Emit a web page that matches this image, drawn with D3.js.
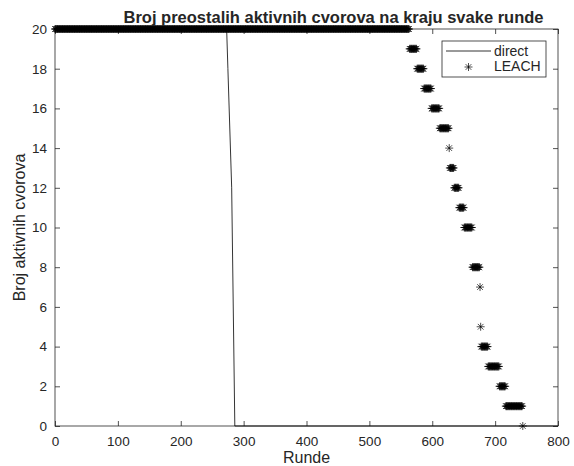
<!DOCTYPE html>
<html><head><meta charset="utf-8">
<script src="https://cdn.jsdelivr.net/npm/d3@7"></script>
<style>body{margin:0;background:#fff}svg{display:block}text{font-family:"Liberation Sans",Arial,sans-serif;fill:#262626}</style>
</head><body>
<script>
// Direct transmission: rounds and alive nodes
const directRounds = [0, 273, 275, 281, 286, 800];
const directAlive  = [20, 20, 18, 12, 0, 0];
// LEACH: alive-node levels and the rounds over which each level was recorded
const leachLevels = [20, 19, 18, 17, 16, 15, 14, 13, 12, 11, 10, 8, 7, 5, 4, 3, 2, 1, 0];
const leachFirst  = [0, 564, 576, 587, 599, 612, 627, 628, 635, 643, 651, 664, 676, 677, 678, 689, 707, 717, 744];
const leachLast   = [563, 575, 586, 598, 611, 626, 627, 634, 642, 650, 663, 675, 676, 677, 688, 706, 716, 743, 744];
const xTicks = [0,100,200,300,400,500,600,700,800];
const yTicks = [0,2,4,6,8,10,12,14,16,18,20];
const titleText = "Broj preostalih aktivnih cvorova na kraju svake runde";
const xLabel = "Runde", yLabel = "Broj aktivnih cvorova";
const legendNames = ["direct", "LEACH"];

const W = 574, H = 466;
const L = 55, R = 558, T = 29, B = 426;
const svg = d3.select("body").append("svg").attr("width", W).attr("height", H);
const x = d3.scaleLinear().domain([0, 800]).range([L, R]);
const y = d3.scaleLinear().domain([0, 20]).range([B, T]);
const ax = "#262626";

// frame
svg.append("rect").attr("x", L).attr("y", T).attr("width", R - L).attr("height", B - T)
  .attr("fill", "none").attr("stroke", ax).attr("stroke-width", 0.8);

const tl = 5;
const gx = svg.append("g").attr("transform", `translate(0,${B})`)
  .call(d3.axisBottom(x).tickValues(xTicks).tickSize(-tl).tickPadding(10).tickFormat(d3.format("d")));
const gxt = svg.append("g").attr("transform", `translate(0,${T})`)
  .call(d3.axisTop(x).tickValues(xTicks).tickSize(-tl).tickFormat(""));
const gy = svg.append("g").attr("transform", `translate(${L},0)`)
  .call(d3.axisLeft(y).tickValues(yTicks).tickSize(-tl).tickPadding(8).tickFormat(d3.format("d")));
const gyr = svg.append("g").attr("transform", `translate(${R},0)`)
  .call(d3.axisRight(y).tickValues(yTicks).tickSize(-tl).tickFormat(""));
[gx, gxt, gy, gyr].forEach(g => {
  g.select(".domain").remove();
  g.selectAll("line").attr("stroke", ax).attr("stroke-width", 0.8);
  g.selectAll("text").attr("font-size", 13.5).attr("fill", ax).attr("font-family", '"Liberation Sans",Arial,sans-serif');
});

// direct line
const line = d3.line().x(d => x(d[0])).y(d => y(d[1]));
svg.append("path").datum(directRounds.map((r, i) => [r, directAlive[i]]))
  .attr("d", line).attr("fill", "none").attr("stroke", "#000").attr("stroke-width", 0.8);

// LEACH markers, one per recorded round
const leachPts = [];
leachLevels.forEach((lv, i) => { for (let r = leachFirst[i]; r <= leachLast[i]; r++) leachPts.push([r, lv]); });
const rr = 4, dd = rr * 0.7071;
const star = `M${-rr},0L${rr},0M0,${-rr}L0,${rr}M${-dd},${-dd}L${dd},${dd}M${-dd},${dd}L${dd},${-dd}`;
svg.append("g").selectAll("path").data(leachPts).join("path")
  .attr("transform", d => `translate(${x(d[0])},${y(d[1])})`)
  .attr("d", star).attr("fill", "none").attr("stroke", "#000").attr("stroke-width", 0.7);

// title and labels
svg.append("text").attr("x", (L + R) / 2 + 27).attr("y", 23).attr("text-anchor", "middle")
  .attr("font-size", 16.5).attr("font-weight", "bold").attr("fill", "#000").text(titleText);
svg.append("text").attr("x", (L + R) / 2).attr("y", 463).attr("text-anchor", "middle")
  .attr("font-size", 16).text(xLabel);
svg.append("text").attr("transform", `translate(25,${(T + B) / 2}) rotate(-90)`).attr("text-anchor", "middle")
  .attr("font-size", 16).text(yLabel);

// legend
const lg = svg.append("g");
lg.append("rect").attr("x", 442).attr("y", 41).attr("width", 104).attr("height", 36)
  .attr("fill", "#fff").attr("stroke", ax).attr("stroke-width", 0.8);
lg.append("line").attr("x1", 446).attr("x2", 491).attr("y1", 51).attr("y2", 51)
  .attr("stroke", "#000").attr("stroke-width", 0.8);
lg.append("path").attr("transform", "translate(468.5,67)").attr("d", star)
  .attr("fill", "none").attr("stroke", "#000").attr("stroke-width", 0.7);
lg.append("text").attr("x", 494).attr("y", 56).attr("font-size", 14).attr("fill", "#000").text(legendNames[0]);
lg.append("text").attr("x", 494).attr("y", 71).attr("font-size", 14).attr("fill", "#000").text(legendNames[1]);
</script>
</body></html>
